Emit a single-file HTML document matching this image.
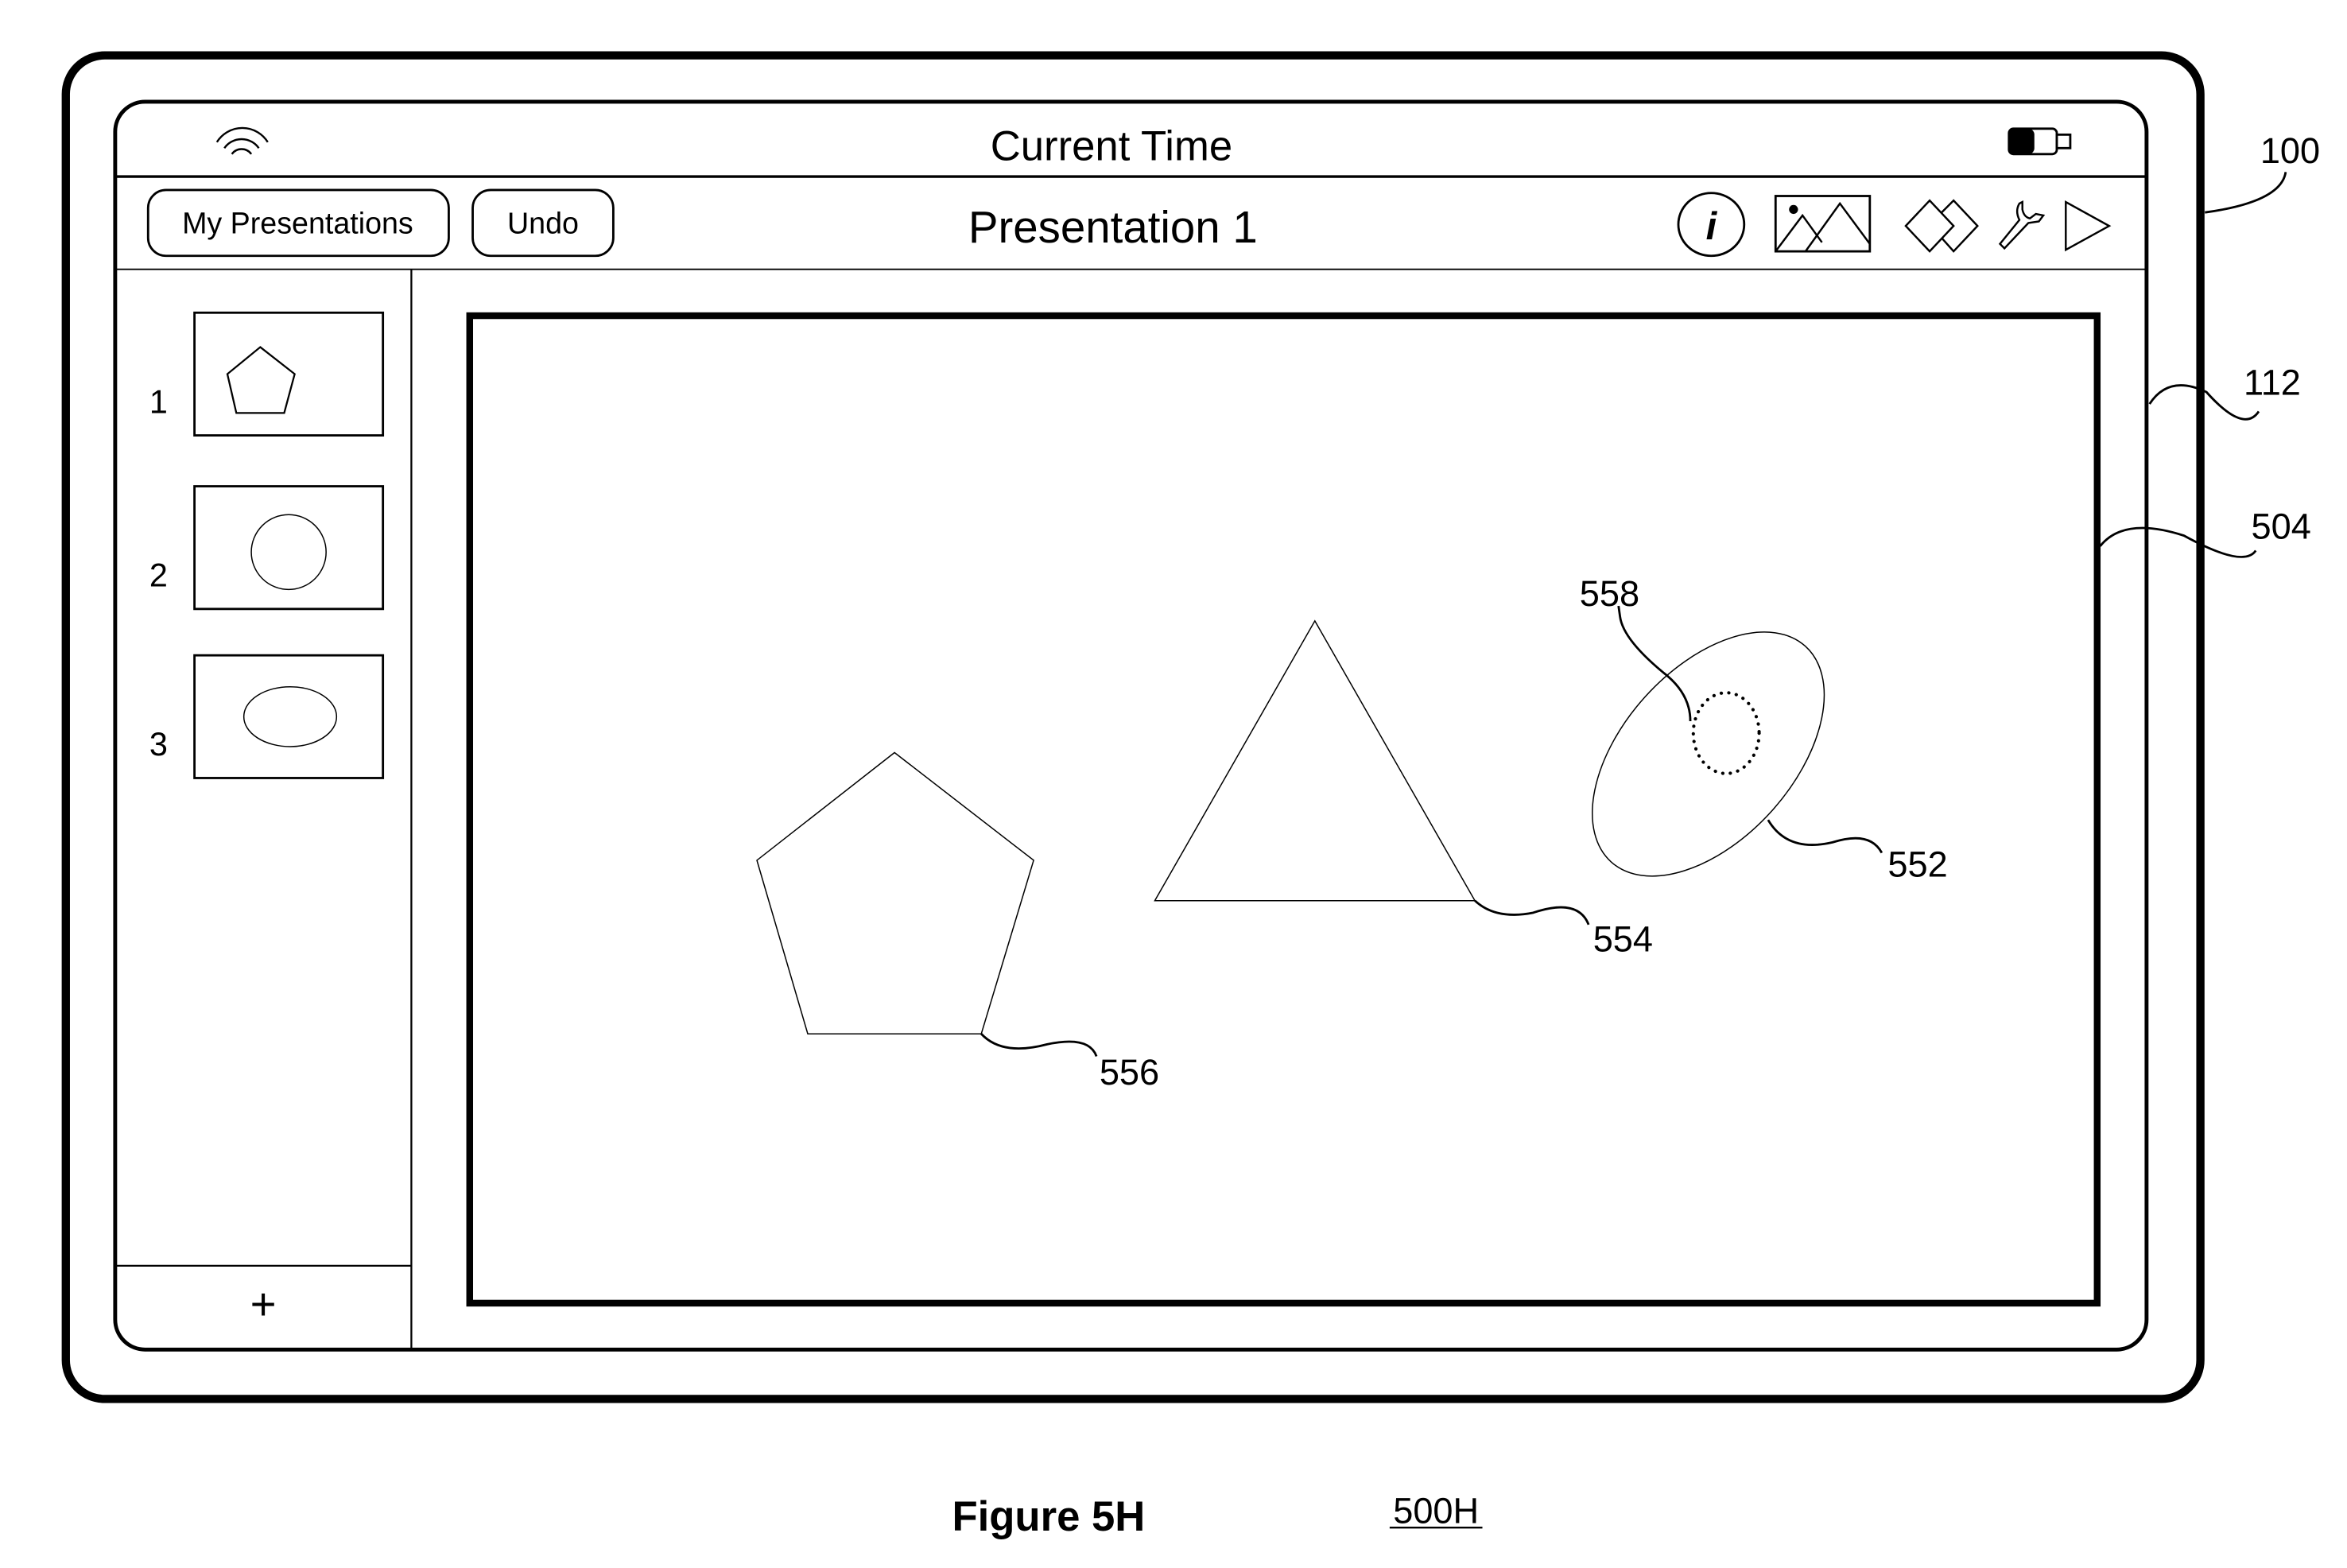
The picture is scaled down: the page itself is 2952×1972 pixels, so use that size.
<!DOCTYPE html>
<html><head><meta charset="utf-8"><style>
html,body{margin:0;padding:0;background:#fff;}
svg{display:block;}
text{font-family:"Liberation Sans",Arial,sans-serif;fill:#000;}
</style></head><body>
<svg width="2952" height="1972" viewBox="0 0 1569 1048" preserveAspectRatio="none" xmlns="http://www.w3.org/2000/svg">
<rect x="0" y="0" width="1569" height="1048" fill="#fff"/>
<!-- device -->
<rect x="44" y="37" width="1427" height="898" rx="26" fill="none" stroke="#000" stroke-width="5.5"/>
<rect x="77" y="68" width="1358" height="834" rx="20" fill="none" stroke="#000" stroke-width="2.6"/>
<line x1="77" y1="118" x2="1435" y2="118" stroke="#000" stroke-width="1.8"/>
<line x1="77" y1="180" x2="1435" y2="180" stroke="#000" stroke-width="1"/>
<line x1="275" y1="180" x2="275" y2="902" stroke="#000" stroke-width="1.2"/>
<line x1="77" y1="846" x2="275" y2="846" stroke="#000" stroke-width="1.2"/>
<text x="176" y="882" font-size="30" text-anchor="middle">+</text>
<!-- wifi -->
<g fill="none" stroke="#000" stroke-width="1.3">
<path d="M145 95 A20 20 0 0 1 179 95"/>
<path d="M150 99 A14 14 0 0 1 173 99"/>
<path d="M155 103 A8 8 0 0 1 168 103"/>
</g>
<text x="743" y="107" font-size="28" text-anchor="middle">Current Time</text>
<!-- battery -->
<rect x="1343" y="86" width="32" height="17" rx="3" fill="#fff" stroke="#000" stroke-width="1.5"/>
<rect x="1343" y="86" width="17" height="17" rx="4" fill="#000"/>
<rect x="1375" y="90" width="9" height="9" fill="#fff" stroke="#000" stroke-width="1.5"/>
<!-- buttons -->
<rect x="99" y="127" width="201" height="44" rx="12" fill="none" stroke="#000" stroke-width="1.5"/>
<text x="199" y="156" font-size="20" text-anchor="middle">My Presentations</text>
<rect x="316" y="127" width="94" height="44" rx="12" fill="none" stroke="#000" stroke-width="1.5"/>
<text x="363" y="156" font-size="20" text-anchor="middle">Undo</text>
<text x="744" y="162" font-size="30" text-anchor="middle">Presentation 1</text>
<!-- icons -->
<ellipse cx="1144" cy="150" rx="22" ry="21" fill="none" stroke="#000" stroke-width="1.5"/>
<text x="1144" y="160" font-size="26" font-weight="bold" font-style="italic" text-anchor="middle">i</text>
<rect x="1187" y="131" width="63" height="37" fill="none" stroke="#000" stroke-width="1.5"/>
<circle cx="1199" cy="140" r="3" fill="#000"/>
<polyline points="1187,168 1205,144 1218,162" fill="none" stroke="#000" stroke-width="1.3"/>
<polyline points="1207,168 1230,136 1250,163" fill="none" stroke="#000" stroke-width="1.3"/>
<g fill="none" stroke="#000" stroke-width="1.3">
<polygon points="1274,151 1290,134 1306,151 1290,168" />
<path d="M1298 159 L1306 168 L1322 151 L1306 134 L1298 142"/>
<path d="M1337 163 L1350 147 Q1347 141 1350 136 L1352 135 L1352 140 Q1353 145 1357 146 L1361 143 L1366 144 L1363 148 L1356 149 L1340 166 Z"/>
<polygon points="1381,135 1410,151 1381,167"/>
</g>
<!-- thumbnails -->
<g fill="none" stroke="#000">
<rect x="130" y="209" width="126" height="82" stroke-width="1.5"/>
<rect x="130" y="325" width="126" height="82" stroke-width="1.5"/>
<rect x="130" y="438" width="126" height="82" stroke-width="1.5"/>
<polygon points="174,232 197,250 190,276 158,276 152,250" stroke-width="1.2"/>
<circle cx="193" cy="369" r="25" stroke-width="0.8"/>
<ellipse cx="194" cy="479" rx="31" ry="20" stroke-width="0.8"/>
</g>
<text x="106" y="276" font-size="22" text-anchor="middle">1</text>
<text x="106" y="392" font-size="22" text-anchor="middle">2</text>
<text x="106" y="505" font-size="22" text-anchor="middle">3</text>
<!-- canvas -->
<rect x="314" y="211" width="1088" height="660" fill="none" stroke="#000" stroke-width="4.5"/>
<g fill="none" stroke="#000" stroke-width="0.8">
<polygon points="598,503 691,575 656,691 540,691 506,575"/>
<polygon points="879,415 986,602 772,602"/>
<ellipse cx="1142" cy="504" rx="97" ry="57" transform="rotate(-48 1142 504)"/>
</g>
<ellipse cx="1154" cy="490" rx="22" ry="27" fill="none" stroke="#000" stroke-width="2.2" stroke-dasharray="0.1 5" stroke-linecap="round"/>
<!-- leaders -->
<g fill="none" stroke="#000" stroke-width="1.5">
<path d="M1130 482 Q1130 465 1115 452 Q1085 428 1083 412 L1082 405"/>
<path d="M1182 548 Q1195 570 1225 563 Q1250 555 1258 570"/>
<path d="M986 602 Q1000 615 1025 610 Q1055 600 1062 618"/>
<path d="M656 691 Q670 706 700 698 Q728 692 733 706"/>
<path d="M1474 142 Q1525 135 1528 115"/>
<path d="M1437 270 Q1450 250 1475 262 Q1500 290 1510 275"/>
<path d="M1404 365 Q1420 345 1460 358 Q1500 380 1508 368"/>
</g>
<text x="1076" y="405" font-size="24" text-anchor="middle">558</text>
<text x="1282" y="586" font-size="24" text-anchor="middle">552</text>
<text x="1085" y="636" font-size="24" text-anchor="middle">554</text>
<text x="755" y="725" font-size="24" text-anchor="middle">556</text>
<text x="1531" y="109" font-size="24" text-anchor="middle">100</text>
<text x="1519" y="264" font-size="24" text-anchor="middle">112</text>
<text x="1525" y="360" font-size="24" text-anchor="middle">504</text>
<text x="701" y="1023" font-size="28" font-weight="bold" text-anchor="middle">Figure 5H</text>
<text x="960" y="1018" font-size="24" text-anchor="middle">500H</text>
<line x1="929" y1="1021" x2="991" y2="1021" stroke="#000" stroke-width="1.3"/>
</svg>
</body></html>
